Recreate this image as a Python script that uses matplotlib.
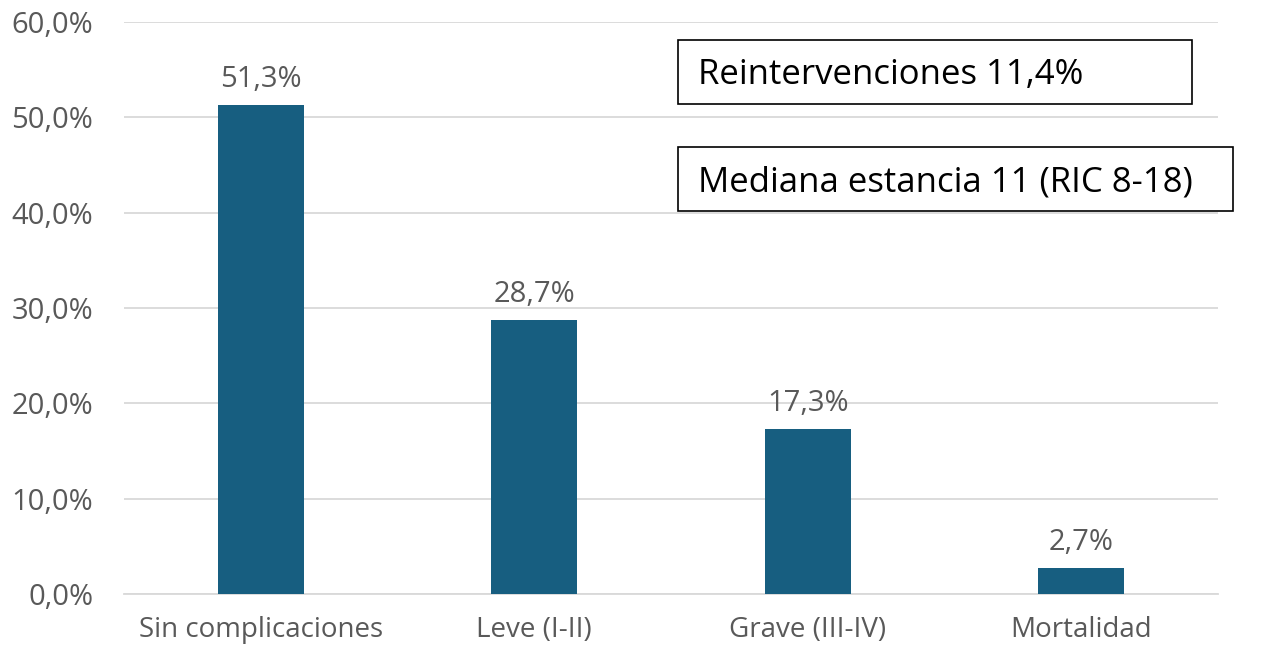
import matplotlib
matplotlib.use("Agg")
from matplotlib import pyplot as plt
from matplotlib.patches import Rectangle
from matplotlib.ticker import FuncFormatter

categorias = ['Sin complicaciones', 'Leve (I-II)', 'Grave (III-IV)', 'Mortalidad']
valores = [51.3, 28.7, 17.3, 2.7]
etiquetas = ['51,3%', '28,7%', '17,3%', '2,7%']
cuadros = ['Reintervenciones 11,4%', 'Mediana estancia 11 (RIC 8-18)']

plt.rcParams['font.family'] = ['Open Sans', 'DejaVu Sans']
gris = '#595959'

fig = plt.figure(figsize=(12.7, 6.51), dpi=100)
ax = fig.add_axes([0.0976, 0.0876, 0.8614, 0.8786])

x = range(len(categorias))
ax.bar(x, valores, width=0.315, color='#175e80', zorder=3)
for i, v in enumerate(valores):
    ax.text(i, v + 1.9, etiquetas[i], ha='center', va='baseline', fontsize=21, color=gris)

ax.set_xlim(-0.5, len(categorias) - 0.5)
ax.set_ylim(0, 60)
ax.set_yticks(range(0, 61, 10))
ax.yaxis.set_major_formatter(FuncFormatter(lambda v, p: f'{v:.1f}%'.replace('.', ',')))
ax.set_xticks(list(x))
ax.set_xticklabels(categorias)
ax.tick_params(length=0, labelcolor=gris)
ax.tick_params(axis='y', pad=22, labelsize=21)
ax.tick_params(axis='x', pad=16, labelsize=20)
ax.grid(axis='y', color='#d9d9d9', linewidth=1.3, zorder=0)
for s in ['top', 'right', 'left']:
    ax.spines[s].set_visible(False)
ax.spines['bottom'].set_color('#d9d9d9')
ax.spines['bottom'].set_linewidth(1.3)

# cuadros de texto
cajas = [(0.5064, 0.8566, 0.4696, 0.1119), (0.5064, 0.6696, 0.5073, 0.1119)]
for (cx, cy, cw, ch), txt in zip(cajas, cuadros):
    ax.add_patch(Rectangle((cx, cy), cw, ch, transform=ax.transAxes, fill=True,
                           facecolor='white', edgecolor='black', linewidth=1.2,
                           clip_on=False, zorder=5))
    ax.text(0.5247, cy + ch / 2 - 0.006, txt, transform=ax.transAxes, ha='left', va='center',
            fontsize=25, color='black', zorder=6)

fig.savefig('out.png', dpi=100)
